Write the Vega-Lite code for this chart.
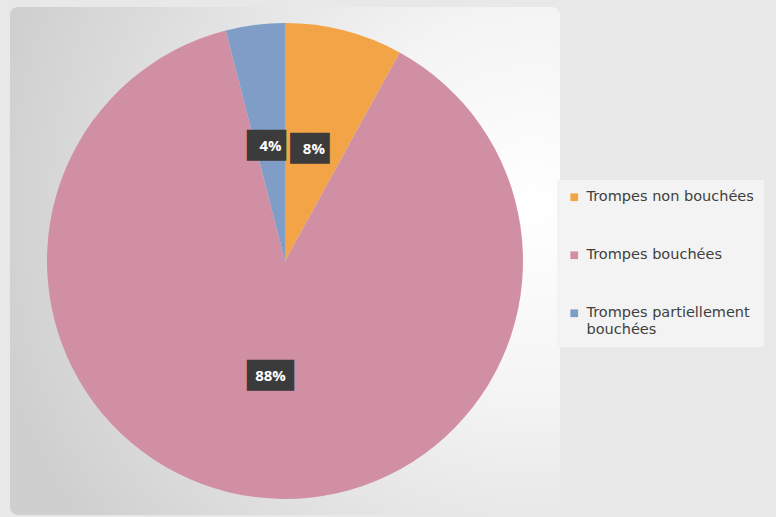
{
  "$schema": "https://vega.github.io/schema/vega-lite/v6.json",
  "width": 550,
  "height": 508,
  "autosize": "none",
  "padding": {"left": 10, "top": 7, "right": 216, "bottom": 2},
  "background": "#e8e8e8",
  "view": {
    "stroke": null,
    "cornerRadius": 8,
    "fill": {
      "gradient": "radial",
      "x1": 0.95, "y1": 0.4, "r1": 0,
      "x2": 0.95, "y2": 0.4, "r2": 1.0,
      "stops": [
        {"offset": 0, "color": "#ffffff"},
        {"offset": 0.35, "color": "#f4f4f4"},
        {"offset": 1, "color": "#cfcfcf"}
      ]
    }
  },
  "data": {
    "values": [
      {"categorie": "Trompes non bouchées", "valeur": 8, "etiquette": "8%", "rang": 1},
      {"categorie": "Trompes bouchées", "valeur": 88, "etiquette": "88%", "rang": 2},
      {"categorie": "Trompes partiellement bouchées", "valeur": 4, "etiquette": "4%", "rang": 3}
    ]
  },
  "encoding": {
    "theta": {"field": "valeur", "type": "quantitative", "stack": true},
    "order": {"field": "rang", "type": "quantitative"}
  },
  "layer": [
    {
      "mark": {"type": "arc", "outerRadius": 238},
      "encoding": {
        "color": {
          "field": "categorie",
          "type": "nominal",
          "sort": ["Trompes non bouchées", "Trompes bouchées", "Trompes partiellement bouchées"],
          "scale": {
            "domain": ["Trompes non bouchées", "Trompes bouchées", "Trompes partiellement bouchées"],
            "range": ["#f2a447", "#d18fa3", "#7f9dc6"]
          },
          "legend": {
            "title": null,
            "orient": "none",
            "legendX": 547,
            "legendY": 173,
            "fillColor": "#f3f3f3",
            "padding": 10,
            "symbolType": "square",
            "symbolSize": 60,
            "symbolStrokeWidth": 0,
            "labelOffset": 5,
            "labelFont": "DejaVu Sans",
            "labelFontSize": 14.5,
            "labelColor": "#404040",
            "labelLimit": 220,
            "rowPadding": 43,
            "labelExpr": "datum.label == 'Trompes partiellement bouchées' ? ['Trompes partiellement', 'bouchées'] : datum.label"
          }
        }
      }
    },
    {
      "mark": {"type": "text", "radius": 116, "font": "DejaVu Sans Mono", "fontSize": 26, "color": "#3b3b3b", "baseline": "middle"},
      "encoding": {
        "text": {"condition": {"test": "datum.valeur > 50", "value": "███"}, "value": "██▌"}
      }
    },
    {
      "mark": {"type": "text", "radius": 116, "font": "Open Sans", "fontWeight": "bold", "fontSize": 15, "color": "#ffffff", "baseline": "middle"},
      "encoding": {
        "text": {"field": "etiquette", "type": "nominal"}
      }
    }
  ]
}
